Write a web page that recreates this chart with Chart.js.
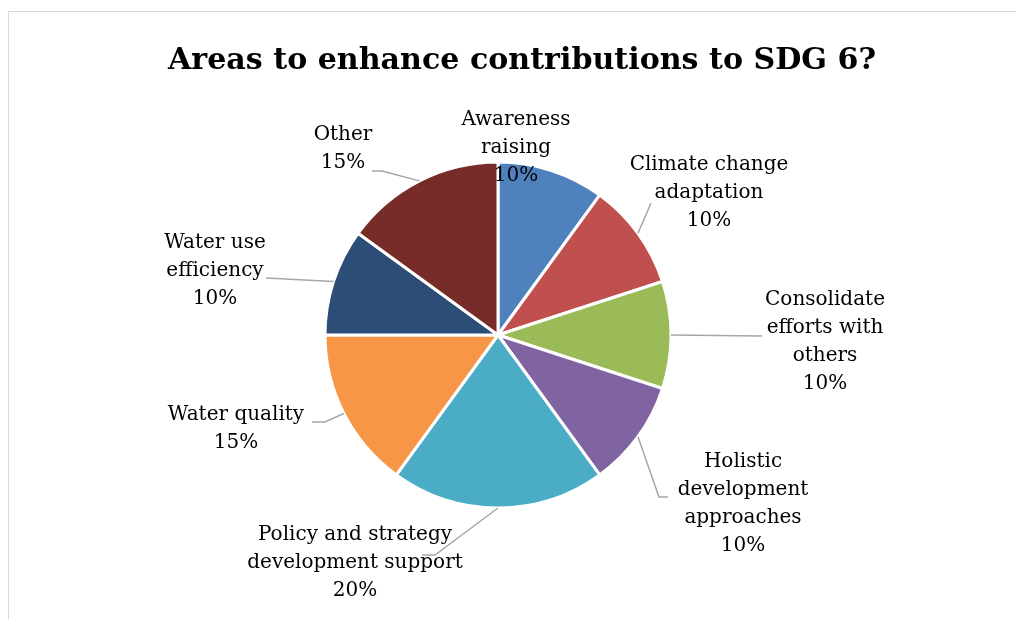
<!DOCTYPE html>
<html>
<head>
<meta charset="utf-8">
<script src="https://cdn.jsdelivr.net/npm/chart.js@4/dist/chart.umd.min.js"></script>
<style>
    html, body { margin: 0; padding: 0; background: #fff; overflow: hidden; }
    #frame {
        position: absolute; left: 8px; top: 11px;
        border-left: 1px solid #d9d9d9; border-top: 1px solid #d9d9d9;
    }
    canvas { display: block; }
</style>
</head>
<body>
<div id="frame"><canvas id="sdgPie" width="1026" height="607"></canvas></div>
<script>
// --- Chart data ---
const chartTitle = 'Areas to enhance contributions to SDG 6?';
const categories = [
    'Awareness raising',
    'Climate change adaptation',
    'Consolidate efforts with others',
    'Holistic development approaches',
    'Policy and strategy development support',
    'Water quality',
    'Water use efficiency',
    'Other'
];
const shares = [10, 10, 10, 10, 20, 15, 10, 15];

// how each category name wraps in its label
const labelLines = [
    ['Awareness', 'raising'],
    ['Climate change', 'adaptation'],
    ['Consolidate', 'efforts with', 'others'],
    ['Holistic', 'development', 'approaches'],
    ['Policy and strategy', 'development support'],
    ['Water quality'],
    ['Water use', 'efficiency'],
    ['Other']
];

const sliceColors = ['#4F81BD', '#C0504D', '#9BBB59', '#8064A2', '#4BACC6', '#F79646', '#2C4D75', '#772C2A'];

// label block centre, relative to the pie centre (px)
const labelOffsets = [[18, -187], [211, -142], [327, 7], [245, 169], [-143, 228], [-262, 94], [-283, -64], [-155, -186]];
// leader line points, relative to the label centre (last point touches the label)
const leaderPoints = [
    [],
    [[-58, 10]],
    [[-63, -6]],
    [[-84, -7], [-75, -7]],
    [[80, -8], [67, -8]],
    [[89, -7], [76, -7]],
    [[51, 7]],
    [[39, 22], [29, 22]]
];

const LABEL_FONT = '20px "DejaVu Serif", serif';
const LINE_HEIGHT = 28;
const TITLE_WIDTH = 709;   // rendered width of the title in the reference
const TITLE_BASELINE = 57;

// title drawn by hand so the pie padding does not squeeze it
const pieTitle = {
    id: 'pieTitle',
    afterDraw(chart) {
        const ctx = chart.ctx;
        ctx.save();
        ctx.font = 'bold 30px "DejaVu Serif", serif';
        const size = 30 * TITLE_WIDTH / ctx.measureText(chartTitle).width;
        ctx.font = `bold ${size.toFixed(1)}px "DejaVu Serif", serif`;
        ctx.fillStyle = '#000';
        ctx.textAlign = 'center';
        ctx.textBaseline = 'alphabetic';
        ctx.fillText(chartTitle, chart.width / 2, TITLE_BASELINE);
        ctx.restore();
    }
};

// draws the Excel-style outside labels with their leader lines
const pieLabels = {
    id: 'pieLabels',
    afterDatasetsDraw(chart) {
        const ctx = chart.ctx;
        const meta = chart.getDatasetMeta(0);
        const total = shares.reduce((a, b) => a + b, 0);
        ctx.save();
        meta.data.forEach((arc, i) => {
            const p = arc.getProps(['x', 'y', 'startAngle', 'endAngle', 'outerRadius'], true);
            const mid = (p.startAngle + p.endAngle) / 2;
            const ex = p.x + Math.cos(mid) * p.outerRadius;
            const ey = p.y + Math.sin(mid) * p.outerRadius;
            const lx = p.x + labelOffsets[i][0];
            const ly = p.y + labelOffsets[i][1];

            if (leaderPoints[i].length) {
                ctx.beginPath();
                ctx.strokeStyle = '#a6a6a6';
                ctx.lineWidth = 1.5;
                ctx.moveTo(ex, ey);
                leaderPoints[i].forEach(pt => ctx.lineTo(lx + pt[0], ly + pt[1]));
                ctx.stroke();
            }

            const lines = labelLines[i].concat([Math.round(shares[i] / total * 100) + '%']);
            ctx.font = LABEL_FONT;
            ctx.fillStyle = '#000';
            ctx.textAlign = 'center';
            ctx.textBaseline = 'middle';
            const top = ly - (lines.length - 1) * LINE_HEIGHT / 2;
            lines.forEach((t, k) => ctx.fillText(t, lx, top + k * LINE_HEIGHT));
        });
        ctx.restore();
    }
};

new Chart(document.getElementById('sdgPie'), {
    type: 'pie',
    data: {
        labels: categories,
        datasets: [{
            data: shares,
            backgroundColor: sliceColors,
            borderColor: '#ffffff',
            borderWidth: 3
        }]
    },
    options: {
        responsive: false,
        animation: false,
        devicePixelRatio: 1,
        layout: { padding: { left: 314.5, right: 362.5, top: 148.5, bottom: 109.5 } },
        plugins: {
            legend: { display: false },
            tooltip: { enabled: false },
            title: { display: false }
        }
    },
    plugins: [pieLabels, pieTitle]
});
</script>
</body>
</html>
